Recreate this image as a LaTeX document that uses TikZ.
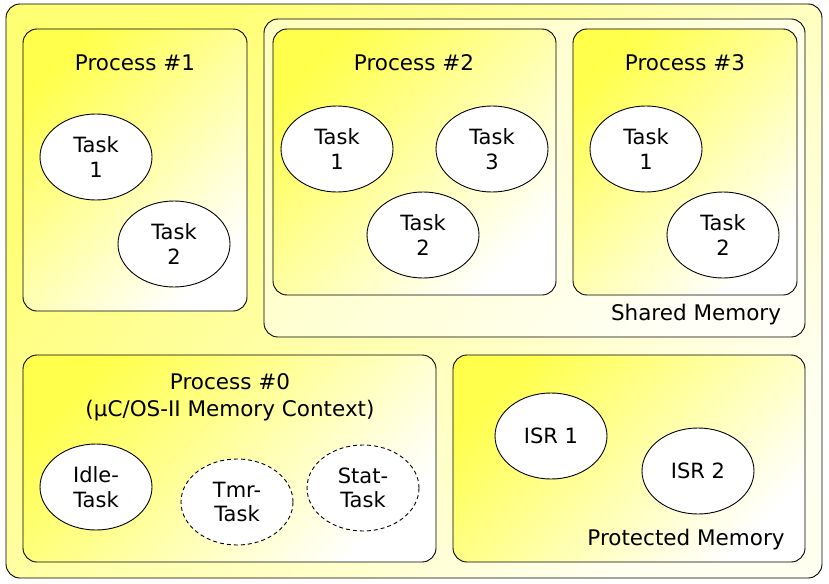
\documentclass[tikz,border=0pt]{standalone}
\usepackage{fontspec}
\setmainfont{DejaVu Sans}
\usetikzlibrary{shapes.geometric}
\begin{document}
\begin{tikzpicture}[x=1pt,y=-1pt,
  outerbox/.style={draw=black,line width=0.9pt,rounded corners=14pt,
     left color=yellow!55,right color=yellow!6,shading angle=45},
  procbox/.style={draw=black,line width=0.9pt,rounded corners=14pt,
     left color=yellow!70,right color=white,shading angle=45},
  membox/.style={draw=black,line width=0.9pt,rounded corners=14pt,
     left color=yellow!25,right color=yellow!3,shading angle=45},
  task/.style={ellipse,draw=black,line width=0.9pt,fill=white,
     minimum width=112pt,minimum height=86pt,inner sep=0pt,align=center,
     font=\fontsize{21}{24.5}\selectfont},
  dtask/.style={task,dash pattern=on 4pt off 3pt},
  title/.style={anchor=base,inner sep=0pt,font=\fontsize{21.5}{27}\selectfont,align=center}]
\useasboundingbox (0,0) rectangle (829,583);
% outer
\path[outerbox] (6,4) rectangle (822,578);
% Process #1
\path[procbox] (23,29) rectangle (247,311);
\node[title] (p1) at (135,71) {Process \#1};
\node[task] (p1t1) at (96,157) {Task\\1};
\node[task] (p1t2) at (174,244) {Task\\2};
% Shared memory
\path[membox] (264,19) rectangle (805,337);
\node[title] (shm) at (696,320) {Shared Memory};
% Process #2
\path[procbox] (273,29) rectangle (556,295);
\node[title] (p2) at (414,71) {Process \#2};
\node[task] (p2t1) at (337,149) {Task\\1};
\node[task] (p2t3) at (492,149) {Task\\3};
\node[task] (p2t2) at (423,235) {Task\\2};
% Process #3
\path[procbox] (573,29) rectangle (797,295);
\node[title] (p3) at (685,71) {Process \#3};
\node[task] (p3t1) at (646,149) {Task\\1};
\node[task] (p3t2) at (723,235) {Task\\2};
% Process #0
\path[procbox] (23,355) rectangle (436,562);
\node[title] (p0a) at (230,389) {Process \#0};
\node[title] (p0b) at (230,416) {(µC/OS-II Memory Context)};
\node[task] (idle) at (96,487) {Idle-\\Task};
\node[dtask] (tmr) at (237,502) {Tmr-\\Task};
\node[dtask] (stat) at (363,488) {Stat-\\Task};
% Protected memory
\path[procbox] (453,355) rectangle (805,562);
\node[task] (isr1) at (551,436) {ISR 1};
\node[task] (isr2) at (698,471) {ISR 2};
\node[title] (prm) at (686,545) {Protected Memory};
\end{tikzpicture}
\end{document}
